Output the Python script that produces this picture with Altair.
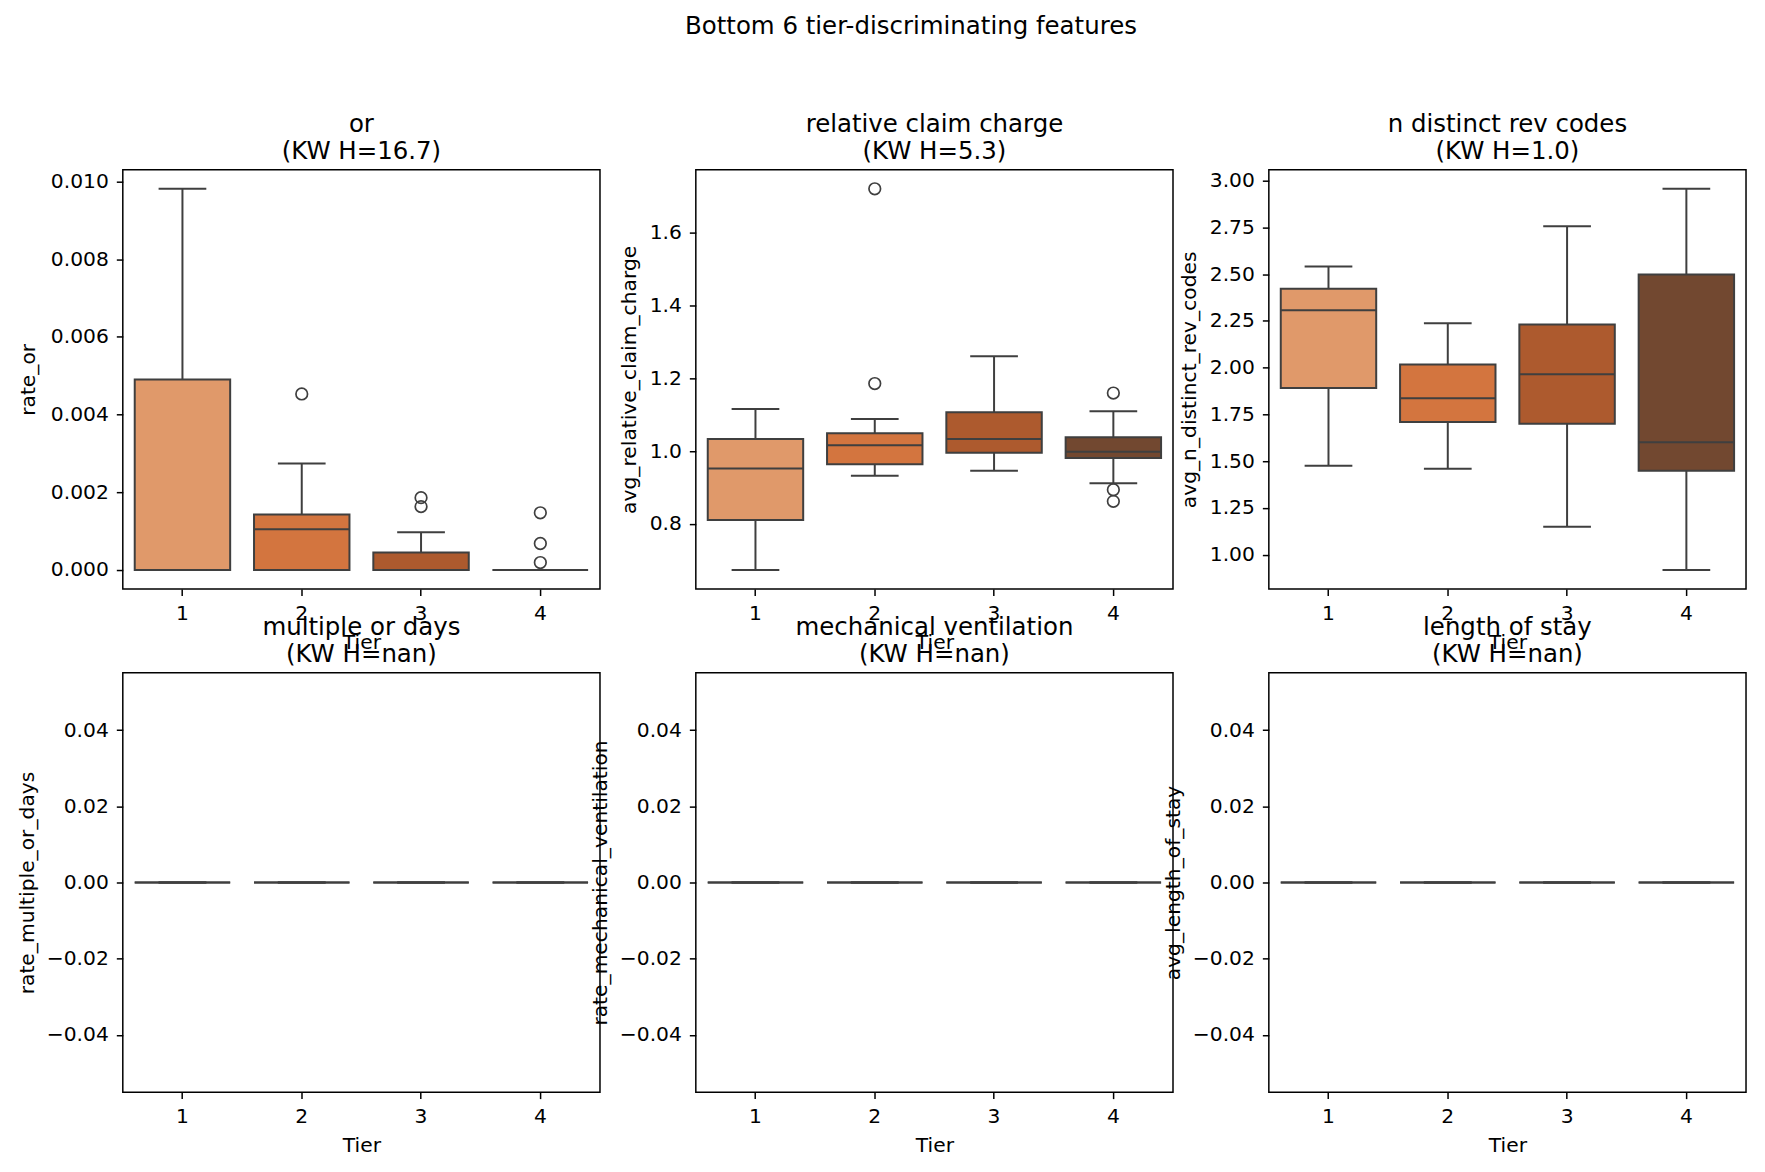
import altair as alt
import pandas as pd

TIERS = ["1", "2", "3", "4"]
COLORS = ["#e0996a", "#d3753f", "#ad5a2e", "#724830"]
EDGE = "#3f3f3f"

FEATURES = ["or", "relative claim charge", "n distinct rev codes",
            "multiple or days", "mechanical ventilation", "length of stay"]
YLABELS = ["rate_or", "avg_relative_claim_charge", "avg_n_distinct_rev_codes",
           "rate_multiple_or_days", "rate_mechanical_ventilation", "avg_length_of_stay"]
KW_H = ["16.7", "5.3", "1.0", "nan", "nan", "nan"]

# ---- panel 1: rate_or ----
OR_Q1 = [0.0, 0.0, 0.0, 0.0]
OR_MED = [0.0, 0.00105, 0.0, 0.0]
OR_Q3 = [0.0049, 0.00143, 0.00045, 0.0]
OR_LO = [0.0, 0.0, 0.0, 0.0]
OR_HI = [0.00981, 0.00274, 0.00097, 0.0]
OR_OUT = [[], [0.00453], [0.00186, 0.00163], [0.00147, 0.00068, 0.00019]]

# ---- panel 2: avg_relative_claim_charge ----
RCC_Q1 = [0.811, 0.964, 0.995, 0.981]
RCC_MED = [0.952, 1.016, 1.033, 0.998]
RCC_Q3 = [1.033, 1.049, 1.106, 1.038]
RCC_LO = [0.674, 0.932, 0.946, 0.912]
RCC_HI = [1.115, 1.088, 1.260, 1.109]
RCC_OUT = [[], [1.719, 1.185], [], [1.159, 0.894, 0.862]]

# ---- panel 3: avg_n_distinct_rev_codes ----
NRC_Q1 = [1.891, 1.709, 1.700, 1.448]
NRC_MED = [2.307, 1.836, 1.964, 1.601]
NRC_Q3 = [2.422, 2.017, 2.230, 2.497]
NRC_LO = [1.475, 1.459, 1.149, 0.918]
NRC_HI = [2.541, 2.237, 2.755, 2.956]
NRC_OUT = [[], [], [], []]

# ---- panels 4-6: all zero ----
ZERO = [0.0, 0.0, 0.0, 0.0]
NO_OUT = [[], [], [], []]

STATS = [
    (OR_Q1, OR_MED, OR_Q3, OR_LO, OR_HI, OR_OUT),
    (RCC_Q1, RCC_MED, RCC_Q3, RCC_LO, RCC_HI, RCC_OUT),
    (NRC_Q1, NRC_MED, NRC_Q3, NRC_LO, NRC_HI, NRC_OUT),
    (ZERO, ZERO, ZERO, ZERO, ZERO, NO_OUT),
    (ZERO, ZERO, ZERO, ZERO, ZERO, NO_OUT),
    (ZERO, ZERO, ZERO, ZERO, ZERO, NO_OUT),
]

Y_TICKS = [
    [0.0, 0.002, 0.004, 0.006, 0.008, 0.010],
    [0.8, 1.0, 1.2, 1.4, 1.6],
    [1.0, 1.25, 1.5, 1.75, 2.0, 2.25, 2.5, 2.75, 3.0],
    [-0.04, -0.02, 0.0, 0.02, 0.04],
    [-0.04, -0.02, 0.0, 0.02, 0.04],
    [-0.04, -0.02, 0.0, 0.02, 0.04],
]
Y_FMT = [".3f", ".1f", ".2f", ".2f", ".2f", ".2f"]
Y_TITLE_PAD = [84, 56, 69, 85, 85, 85]

W, H = 478, 420
STEP = W / 4.0
FONT = "DejaVu Sans"
LABEL_FS = 20.3
TITLE_FS = 24.5


def panel(i):
    q1, med, q3, lo, hi, out = STATS[i]
    df = pd.DataFrame({"tier": TIERS, "q1": q1, "med": med, "q3": q3,
                       "lo": lo, "hi": hi})
    orows = [{"tier": t, "value": v} for t, vals in zip(TIERS, out) for v in vals]

    allv = list(lo) + list(hi) + [v for vals in out for v in vals]
    vmin, vmax = min(allv), max(allv)
    if vmax - vmin == 0:
        dom = [vmin - 0.055, vmax + 0.055]
    else:
        m = 0.05 * (vmax - vmin)
        dom = [vmin - m, vmax + m]

    x = alt.X("tier:N", scale=alt.Scale(domain=TIERS, paddingInner=0, paddingOuter=0),
              axis=alt.Axis(title="Tier", labelAngle=0))
    ysc = alt.Scale(domain=dom, nice=False, zero=False)
    yax = alt.Axis(title=YLABELS[i], values=Y_TICKS[i], format=Y_FMT[i],
                   titlePadding=Y_TITLE_PAD[i], minExtent=0, maxExtent=0)

    base = alt.Chart(df)
    whisk = base.mark_rule(color=EDGE, strokeWidth=2).encode(
        x=x, y=alt.Y("lo:Q", scale=ysc, axis=yax), y2="hi:Q")
    box = base.mark_bar(width=alt.RelativeBandSize(0.8), stroke=EDGE, strokeWidth=2).encode(
        x=x, y=alt.Y("q1:Q", scale=ysc, axis=yax), y2="q3:Q",
        color=alt.Color("tier:N", scale=alt.Scale(domain=TIERS, range=COLORS), legend=None))
    med_m = base.mark_tick(color=EDGE, thickness=2, size=0.8 * STEP, opacity=1).encode(
        x=x, y=alt.Y("med:Q", scale=ysc, axis=yax))
    cap_lo = base.mark_tick(color=EDGE, thickness=2, size=0.4 * STEP, opacity=1).encode(
        x=x, y=alt.Y("lo:Q", scale=ysc, axis=yax))
    cap_hi = base.mark_tick(color=EDGE, thickness=2, size=0.4 * STEP, opacity=1).encode(
        x=x, y=alt.Y("hi:Q", scale=ysc, axis=yax))
    layers = [whisk, box, med_m, cap_lo, cap_hi]
    if orows:
        pts = alt.Chart(pd.DataFrame(orows)).mark_point(
            shape="circle", filled=False, color=EDGE, size=135, strokeWidth=1.7,
            opacity=1).encode(x=x, y=alt.Y("value:Q", scale=ysc, axis=yax))
        layers.append(pts)
    return alt.layer(*layers).properties(
        width=W, height=H,
        title=alt.TitleParams(text=[FEATURES[i], f"(KW H={KW_H[i]})"],
                              lineHeight=27, offset=5, anchor="middle"))


chart = alt.concat(
    *[panel(i) for i in range(6)], columns=3,
    spacing={"row": 84, "column": 96}, bounds="flush",
).properties(
    title=alt.TitleParams("Bottom 6 tier-discriminating features", fontSize=TITLE_FS,
                          anchor="middle", offset=72, dx=29),
    padding={"left": 9, "top": 5, "right": 10, "bottom": 10},
).configure_view(
    stroke="black", strokeWidth=1.5
).configure_axis(
    domain=False, grid=False, tickColor="black", tickWidth=1.5, tickSize=6.5,
    labelFont=FONT, labelFontSize=LABEL_FS, labelColor="black",
    titleFont=FONT, titleFontSize=LABEL_FS, titleFontWeight="normal", titleColor="black",
).configure_axisX(
    labelPadding=8, titlePadding=9
).configure_axisY(
    labelPadding=8
).configure_title(
    font=FONT, fontSize=TITLE_FS, fontWeight="normal", color="black"
)

chart.save("out.html", embed_options={"renderer": "svg", "actions": False})
